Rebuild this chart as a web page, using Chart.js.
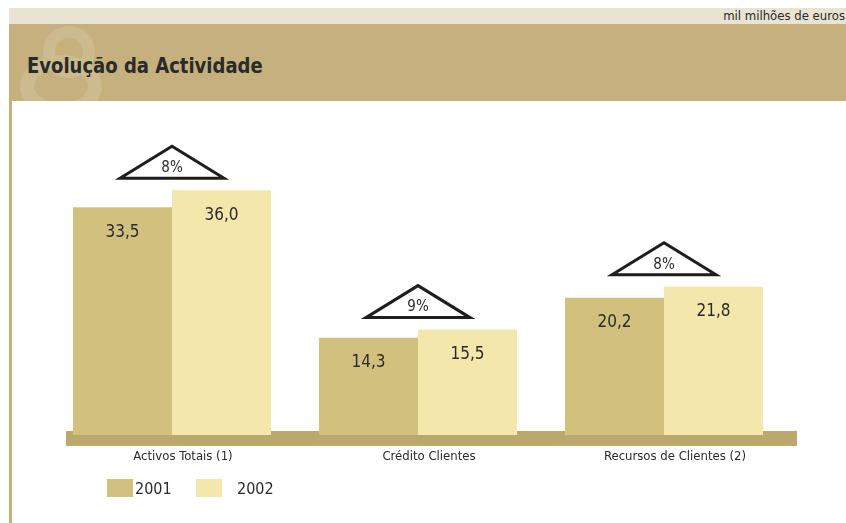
<!DOCTYPE html>
<html>
<head>
<meta charset="utf-8">
<script src="https://cdn.jsdelivr.net/npm/chart.js@4/dist/chart.umd.min.js"></script>
<style>
body{margin:0;background:#fff;font-family:"DejaVu Sans Condensed","DejaVu Sans",sans-serif;}
#page{position:relative;width:846px;height:523px;overflow:hidden;}
#band1{position:absolute;left:9px;top:8px;width:837px;height:16px;background:#e9e3d3;}
#band2{position:absolute;left:9px;top:24px;width:837px;height:77px;background:#c5b07e;overflow:hidden;}
#unit{position:absolute;right:1px;top:7px;font-size:13px;color:#2a2a2a;line-height:18px;}
#title{position:absolute;left:27px;top:51px;font-size:22px;font-weight:bold;color:#2a2a2a;line-height:30px;transform:scaleX(0.91);transform-origin:left center;white-space:nowrap;}
#rule{position:absolute;left:9px;top:101px;width:3px;height:422px;background:#c5b07e;}
#chart{position:absolute;left:0;top:0;}
</style>
</head>
<body>
<div id="page">
<div id="band1"></div>
<div id="band2">
<svg width="140" height="77" style="position:absolute;left:0;top:0">
<circle cx="60" cy="28" r="20" fill="none" stroke="#cbbb8e" stroke-width="12"/>
<ellipse cx="52" cy="62" rx="34" ry="24" fill="none" stroke="#cbbb8e" stroke-width="14"/>
</svg>
</div>
<div id="unit">mil milhões de euros</div>
<div id="title">Evolução da Actividade</div>
<div id="rule"></div>
<canvas id="chart" width="846" height="523"></canvas>
</div>
<script>
const categories = ["Activos Totais (1)","Crédito Clientes","Recursos de Clientes (2)"];
const years = ["2001","2002"];
const values2001 = [33.5,14.3,20.2];
const values2002 = [36.0,15.5,21.8];
const growth = ["8%","9%","8%"];

const FONT = '"DejaVu Sans Condensed","DejaVu Sans",sans-serif';
const TEXT = "#2a2a2a";

// ---------- FLOOR / LABELS / TRIANGLES ----------
const decor = {
id:"decor",
beforeDatasetsDraw(chart){
const c = chart.ctx, a = chart.chartArea;
c.save();
c.fillStyle="#bca86c";
c.fillRect(a.left+17, a.bottom-4, a.right-a.left-7, 15);
c.restore();
},
afterDatasetsDraw(chart){
const c = chart.ctx;
const x = chart.scales.x;
c.save();
c.fillStyle=TEXT;
c.textAlign="center";
c.textBaseline="middle";
c.font="17px "+FONT;
chart.data.datasets.forEach((ds,di)=>{
chart.getDatasetMeta(di).data.forEach((bar,i)=>{
c.fillText(ds.data[i].toFixed(1).replace(".",","), bar.x, bar.y+25);
});
});
// growth triangles
categories.forEach((cat,i)=>{
const cx = x.getPixelForValue(i);
let top = Infinity;
chart.data.datasets.forEach((ds,di)=>{
top = Math.min(top, chart.getDatasetMeta(di).data[i].y);
});
const base = top-12;
c.beginPath();
c.moveTo(cx-52, base);
c.lineTo(cx, base-32);
c.lineTo(cx+52, base);
c.closePath();
c.fillStyle="#fff";
c.fill();
c.lineWidth=3;
c.lineJoin="miter";
c.strokeStyle="#1e1e1e";
c.stroke();
c.fillStyle=TEXT;
c.font="15px "+FONT;
c.fillText(growth[i], cx, base-10);
});
// legend
const lx=[107,196], tx=[135,237];
chart.data.datasets.forEach((ds,di)=>{
c.fillStyle=ds.backgroundColor;
c.fillRect(lx[di],479,26,18);
c.fillStyle=TEXT;
c.textAlign="left";
c.font="16px "+FONT;
c.fillText(ds.label, tx[di], 490);
});
c.restore();
}
};

const ctx = document.getElementById("chart").getContext("2d");

const chart = new Chart(ctx,{
type:"bar",
data:{
labels:categories,
datasets:[
{label:years[0],data:values2001,backgroundColor:"#d2c07f"},
{label:years[1],data:values2002,backgroundColor:"#f3e7ab"}
]
},
options:{
responsive:false,
animation:false,
layout:{padding:{left:49,right:59,top:163,bottom:0}},
datasets:{bar:{categoryPercentage:0.805,barPercentage:1,borderWidth:0}},
plugins:{legend:{display:false},tooltip:{enabled:false}},
scales:{
x:{
grid:{display:false,drawTicks:false},
border:{display:false},
ticks:{color:TEXT,font:{family:FONT,size:13},padding:14,labelOffset:11,maxRotation:0},
afterFit(s){s.height=88;}
},
y:{display:false,min:0,max:40}
}
},
plugins:[decor]
});
</script>
</body>
</html>
